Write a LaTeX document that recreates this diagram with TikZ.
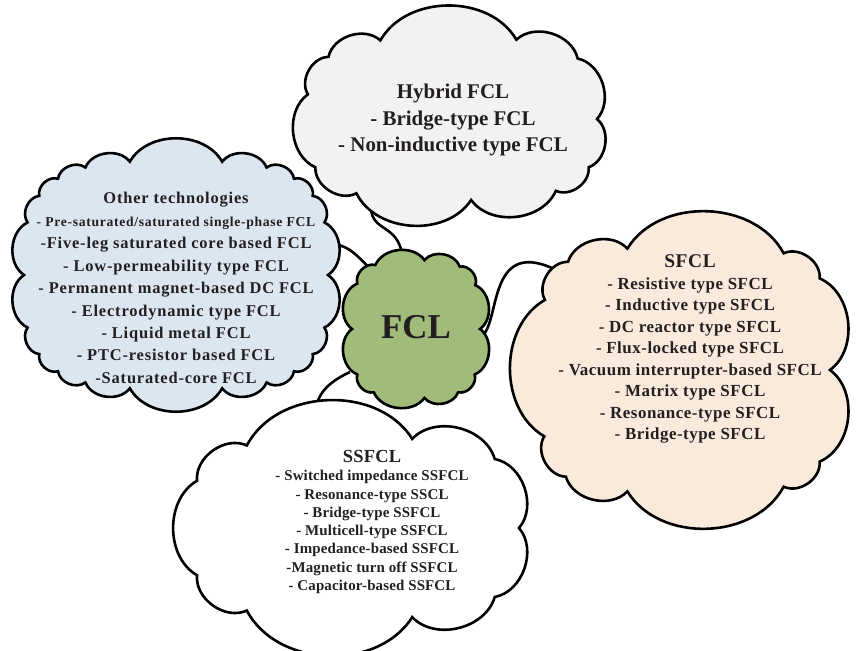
\documentclass[tikz,border=0pt]{standalone}
\usepackage{fontspec}
\setmainfont{Liberation Serif}
\newfontfamily\widethree[LetterSpace=3]{Liberation Serif}
\newfontfamily\widefive[LetterSpace=5]{Liberation Serif}
\newfontfamily\wideone[LetterSpace=1]{Liberation Serif}
\definecolor{hybridfill}{HTML}{F2F2F2}
\definecolor{otherfill}{HTML}{DCE6F1}
\definecolor{fclfill}{HTML}{A1BB7B}
\definecolor{sfclfill}{HTML}{F9EADB}
\definecolor{inkcol}{HTML}{231F20}
\tikzset{
  declare function={sp(\u,\e)=\u*pow(abs(\u)+0.0005,\e-1);},
  bubble/.style={draw=black, line width=2.6bp, line join=miter},
  label/.style={align=center, text=inkcol, font=\bfseries, inner sep=0pt},
  link/.style={draw=black, line width=2.6bp}
}
% puffy outline: style, centre x, centre y, half width, half height,
% squareness exponent, first angle, remaining angles (ending with the first one again)
\newcommand\puffoutline[8]{%
  \draw[#1] ({#2+#4*sp(cos(#7),#6)},{#3-#5*sp(sin(#7),#6)})
    \foreach \t in {#8} { to[bend right=60] ({#2+#4*sp(cos(\t),#6)},{#3-#5*sp(sin(\t),#6)}) } -- cycle;}
\begin{document}
\begin{tikzpicture}[x=1bp,y=-1bp]
\useasboundingbox (0,0) rectangle (857,651);

% ends of the connectors, tucked just inside the clouds
\coordinate (hybridfoot) at (371,208);
\coordinate (fcltop) at (403,264);
\coordinate (otherport) at (322,243);
\coordinate (fclwest) at (374,272);
\coordinate (fcleast) at (482,336);
\coordinate (sfclport) at (552,268);
\coordinate (fclsouth) at (350,372);
\coordinate (ssfclport) at (316,424);

% connectors between the clouds
\draw[link] (hybridfoot) .. controls (372,234) and (402,222) .. (fcltop);
\draw[link] (otherport) .. controls (350,243) and (355,255) .. (fclwest);
\draw[link] (fcleast) .. controls (500,322) and (488,240) .. (sfclport);
\draw[link] (fclsouth) .. controls (322,385) and (313,400) .. (ssfclport);

% cloud outlines
\puffoutline{bubble, fill=hybridfill}{452}{119}{145}{81}{0.6}{0}{38,75,108,140,172,205,240,272,305,335,360}
\puffoutline{bubble, fill=otherfill}{176}{275}{152}{114}{0.6}{0}{16,33,49,65,82,98,115,131,147,164,180,196,213,229,245,262,278,295,311,327,344,360}
\puffoutline{bubble, fill=sfclfill}{686}{370}{144}{122}{0.45}{0}{32,65,98,130,163,195,228,262,295,328,360}
\puffoutline{bubble, fill=white}{355}{528}{164}{90}{0.6}{0}{40,80,120,160,200,240,280,320,360}
\puffoutline{bubble, fill=fclfill}{416}{329}{64}{69}{0.6}{0}{28,58,88,118,150,180,210,240,272,300,330,360}

% texts
\node[label, font=\bfseries\fontsize{21}{27}\selectfont] (hybridtext) at (453,120)
  {Hybrid FCL\\- Bridge-type FCL\\- Non-inductive type FCL};
\node[label, font=\widefive\bfseries\fontsize{16.5}{22.5}\selectfont] (othertext) at (176,288)
  {Other technologies\\
   {\fontsize{13.7}{22.5}\selectfont - Pre-saturated/saturated single-phase FCL}\\
   -Five-leg saturated core based FCL\\
   - Low-permeability type FCL\\
   - Permanent magnet-based DC FCL\\
   - Electrodynamic type FCL\\
   - Liquid metal FCL\\
   - PTC-resistor based FCL\\
   -Saturated-core FCL};
\node[label, font=\bfseries\fontsize{35}{40}\selectfont] (fcltext) at (416,327) {FCL};
\node[label, font=\widethree\bfseries\fontsize{17}{21.6}\selectfont] (sfcltext) at (690,349)
  {{\fontsize{19.5}{21.6}\selectfont SFCL}\\
   - Resistive type SFCL\\
   - Inductive type SFCL\\
   - DC reactor type SFCL\\
   - Flux-locked type SFCL\\
   - Vacuum interrupter-based SFCL\\
   - Matrix type SFCL\\
   - Resonance-type SFCL\\
   - Bridge-type SFCL};
\node[label, font=\wideone\bfseries\fontsize{15}{18.3}\selectfont] (ssfcltext) at (372,522)
  {{\fontsize{18.5}{18.3}\selectfont SSFCL}\\
   - Switched impedance SSFCL\\
   - Resonance-type SSCL\\
   - Bridge-type SSFCL\\
   - Multicell-type SSFCL\\
   - Impedance-based SSFCL\\
   -Magnetic turn off SSFCL\\
   - Capacitor-based SSFCL};
\end{tikzpicture}
\end{document}
